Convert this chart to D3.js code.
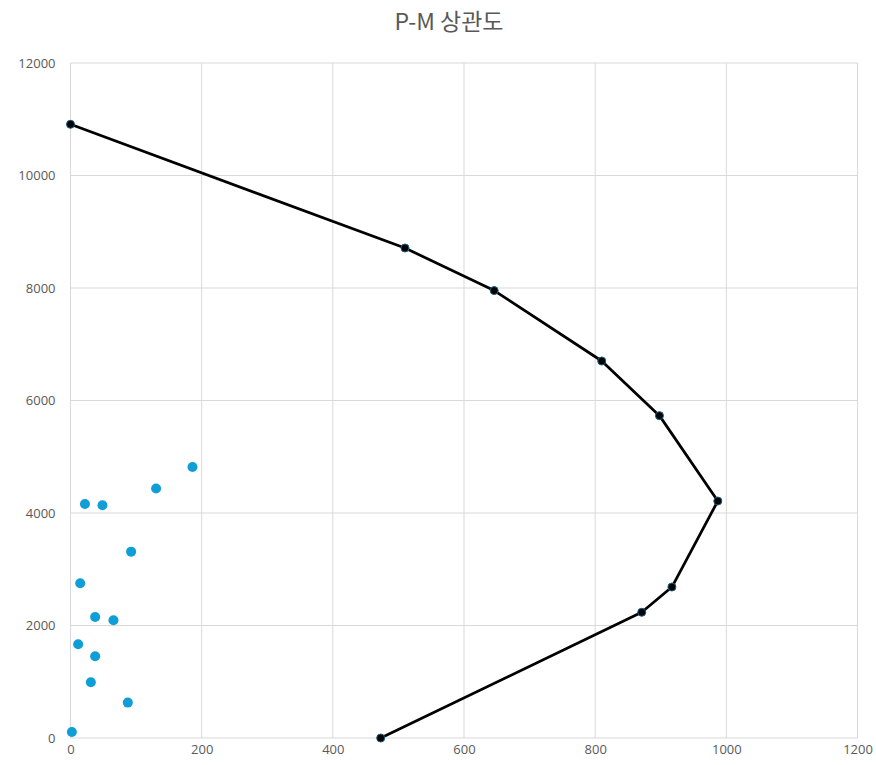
<!DOCTYPE html>
<html>
<head>
<meta charset="utf-8">
<script src="https://cdn.jsdelivr.net/npm/d3@7"></script>
<style>
  body { margin: 0; background: #fff; }
  svg { display: block; }
</style>
</head>
<body>
<svg id="chart" width="876" height="765"></svg>
<script>
// scatter (blue dots)
var dotX = [186, 130.5, 22, 48.7, 92.4, 14.8, 37.6, 65.5, 11.7, 37.6, 31, 87.4, 2.1];
var dotY = [4818, 4434, 4160, 4137, 3313, 2750, 2151, 2092, 1666, 1452, 990, 629, 107];

// P-M curve (black line)
var curveX = [0, 510, 646, 810, 898, 987, 917, 871, 473];
var curveY = [10910, 8711, 7954, 6702, 5731, 4213, 2684, 2235, 0];

var xTicks = [0, 200, 400, 600, 800, 1000, 1200];
var yTicks = [0, 2000, 4000, 6000, 8000, 10000, 12000];

var svg = d3.select('#chart');
// plot box (note: "top" is taken by window.top, so use a prefix)
var pLeft = 70.5, pRight = 857.5, pTop = 63, pBottom = 738;

var x = d3.scaleLinear().domain([0, 1200]).range([pLeft, pRight]);
var y = d3.scaleLinear().domain([0, 12000]).range([pBottom, pTop]);

// title
svg.append('text')
    .attr('x', 449).attr('y', 30)
    .attr('text-anchor', 'middle')
    .attr('fill', '#595959')
    .style('font-family', '"Noto Sans CJK KR", "Noto Sans", sans-serif')
    .style('font-size', '23px')
    .text('P-M 상관도');

// grid
var grid = svg.append('g');
grid.selectAll('line.h')
    .data(yTicks)
  .enter().append('line')
    .attr('class', 'h')
    .attr('x1', pLeft).attr('x2', pRight)
    .attr('y1', function(d) { return y(d) }).attr('y2', function(d) { return y(d) })
    .attr('stroke', '#d9d9d9').attr('stroke-width', 1);
grid.selectAll('line.v')
    .data(xTicks)
  .enter().append('line')
    .attr('class', 'v')
    .attr('y1', pTop).attr('y2', pBottom)
    .attr('x1', function(d) { return x(d) }).attr('x2', function(d) { return x(d) })
    .attr('stroke', '#d9d9d9').attr('stroke-width', 1);

// axes (labels only)
var yAxis = svg.append('g')
    .attr('transform', 'translate(' + (pLeft - 15) + ',0)')
    .call(d3.axisLeft(y).tickValues(yTicks).tickSize(0).tickPadding(0).tickFormat(d3.format('d')));
var xAxis = svg.append('g')
    .attr('transform', 'translate(0,' + (pBottom + 7) + ')')
    .call(d3.axisBottom(x).tickValues(xTicks).tickSize(0).tickPadding(0).tickFormat(d3.format('d')));
[xAxis, yAxis].forEach(function(a) {
    a.select('.domain').remove();
    a.selectAll('text')
        .attr('fill', '#595959')
        .style('font-family', '"Open Sans", "Noto Sans", sans-serif')
        .style('font-size', '13px');
});

// blue dots
svg.append('g').selectAll('circle')
    .data(dotX.map(function(d, i) { return [d, dotY[i]] }))
  .enter().append('circle')
    .attr('cx', function(d) { return x(d[0]) })
    .attr('cy', function(d) { return y(d[1]) })
    .attr('r', 5)
    .attr('fill', '#0f9ed5');

// curve
var pts = curveX.map(function(d, i) { return [d, curveY[i]] });
var line = d3.line()
    .x(function(d) { return x(d[0]) })
    .y(function(d) { return y(d[1]) });
svg.append('path')
    .datum(pts)
    .attr('d', line)
    .attr('fill', 'none')
    .attr('stroke', '#000')
    .attr('stroke-width', 2.75)
    .attr('stroke-linejoin', 'round');
svg.append('g').selectAll('circle')
    .data(pts)
  .enter().append('circle')
    .attr('cx', function(d) { return x(d[0]) })
    .attr('cy', function(d) { return y(d[1]) })
    .attr('r', 4)
    .attr('fill', '#000')
    .attr('stroke', '#156082')
    .attr('stroke-width', 1);
</script>
</body>
</html>
